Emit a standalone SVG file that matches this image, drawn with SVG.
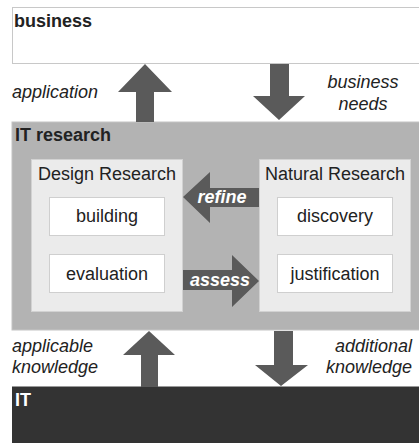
<svg xmlns="http://www.w3.org/2000/svg" width="419" height="443" viewBox="0 0 419 443">
<style>
text{font-family:"Liberation Sans",Arial,sans-serif;font-size:18px;fill:#222}
.b{font-weight:bold}
.i{font-style:italic}
.w{fill:#fff}
.m{text-anchor:middle}
.e{text-anchor:end}
.arr{fill:#5a5a5a}
.inner{fill:#ebebeb;stroke:#d2d2d2;stroke-width:1}
.leaf{fill:#fff;stroke:#cfcfcf;stroke-width:1}
</style>
<rect width="419" height="443" fill="#fff"/>
<g id="business">
<rect x="12.5" y="7.5" width="410" height="56" fill="#fff" stroke="#c8c8c8"/>
<text x="14" y="27" class="b">business</text>
</g>
<g id="it-research">
<rect x="12" y="122" width="410" height="208" fill="#b3b3b3" stroke="#c4c4c4"/>
<text x="15" y="141" class="b">IT research</text>
</g>
<g id="it">
<rect x="12" y="386" width="410" height="60" fill="#333"/>
<line x1="12" y1="386.5" x2="419" y2="386.5" stroke="#999"/>
<text x="15" y="406" class="b w">IT</text>
</g>
<g id="design-research">
<rect x="31.5" y="159.5" width="151" height="152" class="inner"/>
<text x="107" y="180" class="m">Design Research</text>
</g>
<g id="natural-research">
<rect x="259.5" y="159.5" width="151" height="152" class="inner"/>
<text x="335" y="180" class="m">Natural Research</text>
</g>
<g id="building">
<rect x="49.5" y="197.5" width="115" height="38" class="leaf"/>
<text x="107" y="222" class="m">building</text>
</g>
<g id="evaluation">
<rect x="49.5" y="254.5" width="115" height="38" class="leaf"/>
<text x="107" y="280" class="m">evaluation</text>
</g>
<g id="discovery">
<rect x="277.5" y="197.5" width="115" height="38" class="leaf"/>
<text x="335" y="222" class="m">discovery</text>
</g>
<g id="justification">
<rect x="277.5" y="254.5" width="115" height="38" class="leaf"/>
<text x="335" y="280" class="m">justification</text>
</g>
<g id="connectors">
<polygon class="arr" points="136,122 136,92 118,92 145,64 172,92 154,92 154,122"/>
<polygon class="arr" points="270,64 289,64 289,96 305,96 279,120 253,96 270,96"/>
<polygon class="arr" points="141,387 141,355 123,355 149,331 175,355 158,355 158,387"/>
<polygon class="arr" points="274,331 293,331 293,365 308,365 281,386 255,365 274,365"/>
<polygon class="arr" points="259,188 210,188 210,172 183,197 210,223 210,207 259,207"/>
<polygon class="arr" points="183,270 232,270 232,255 259,281 232,307 232,290 183,290"/>
<text x="222" y="203" class="b i w m">refine</text>
<text x="220" y="286" class="b i w m">assess</text>
<text x="12" y="98" class="i">application</text>
<text x="363" y="88" class="i m">business</text>
<text x="363" y="110" class="i m">needs</text>
<text x="12" y="352" class="i">applicable</text>
<text x="12" y="373" class="i">knowledge</text>
<text x="412" y="352" class="i e">additional</text>
<text x="412" y="373" class="i e">knowledge</text>
</g>
</svg>
